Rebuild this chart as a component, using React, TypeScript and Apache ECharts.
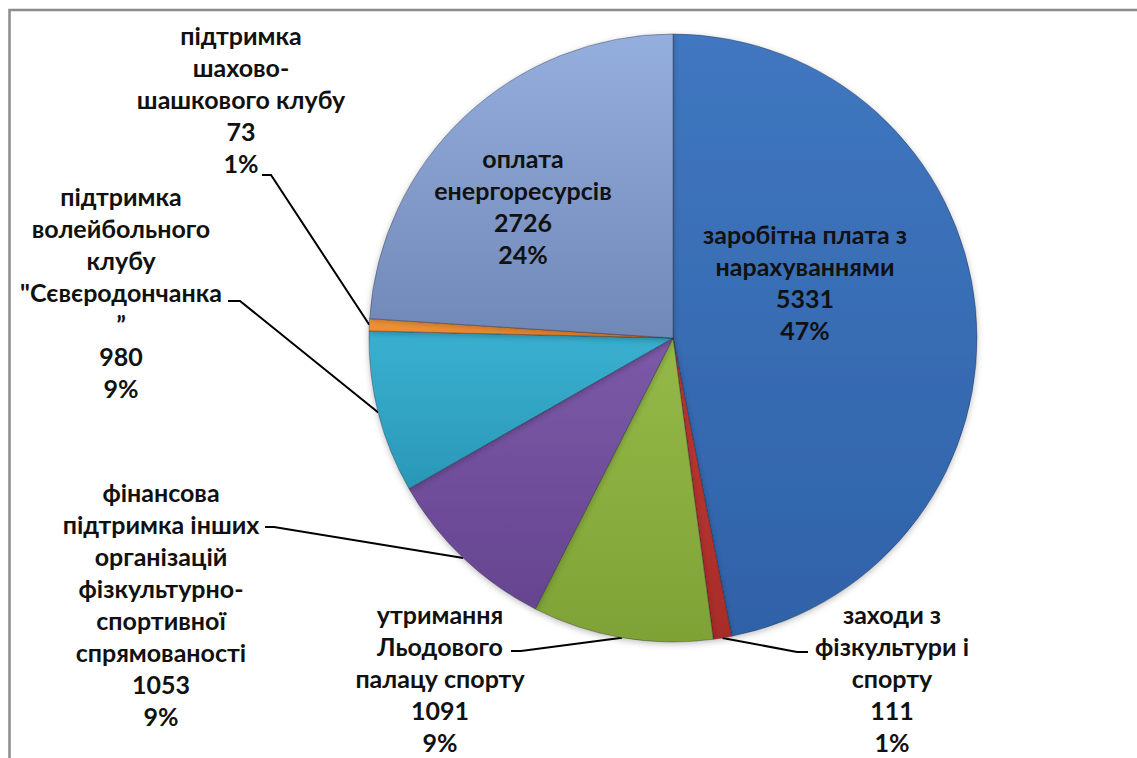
import React, { useEffect, useRef } from "react";
import * as echarts from "echarts";

const categories = [
  "заробітна плата з нарахуваннями",
  "заходи з фізкультури і спорту",
  "утримання Льодового палацу спорту",
  "фінансова підтримка інших організацій фізкультурно-спортивної спрямованості",
  "підтримка волейбольного клубу \"Сєвєродончанка\"",
  "підтримка шахово-шашкового клубу",
  "оплата енергоресурсів",
];
const values = [5331, 111, 1091, 1053, 980, 73, 2726];
const percents = [47, 1, 9, 9, 9, 1, 24];
const wrappedNames = [
  ["заробітна плата з", "нарахуваннями"],
  ["заходи з", "фізкультури і", "спорту"],
  ["утримання", "Льодового", "палацу спорту"],
  ["фінансова", "підтримка інших", "організацій", "фізкультурно-", "спортивної", "спрямованості"],
  ["підтримка", "волейбольного", "клубу", "\"Сєвєродончанка", "”"],
  ["підтримка", "шахово-", "шашкового клубу"],
  ["оплата", "енергоресурсів"],
];
const colors = [
  ["#4077C0", "#2F62A8"],
  ["#C03A35", "#A82C28"],
  ["#95BA48", "#7FA236"],
  ["#7C5AA8", "#664490"],
  ["#3AB0D0", "#2A98B8"],
  ["#F79B3E", "#E8842A"],
  ["#94AEDD", "#7088B8"],
];

// label layout (center of text block) and leader line bends
const labelPos: number[][] = [
  [805, 282],
  [892, 678],
  [440, 678],
  [161, 604],
  [121, 292],
  [241, 99],
  [523, 206],
];
const lineBends: (number[][] | null)[] = [
  null,
  [[797, 652], [808, 652]],
  [[521, 651], [511, 651]],
  [[274, 527], [265, 527]],
  [[240, 301], [228, 301]],
  [[271, 175], [262, 175]],
  null,
];

export default function App() {
  const ref = useRef<HTMLDivElement>(null);
  useEffect(() => {
    if (!ref.current) return;
    const chart = echarts.init(ref.current, null, { renderer: "svg" });
    const data = categories.map((name, i) => {
      const inside = lineBends[i] === null;
      return {
        name,
        value: values[i],
        itemStyle: {
          color: new echarts.graphic.LinearGradient(0, 0, 0, 1, [
            { offset: 0, color: colors[i][0] },
            { offset: 1, color: colors[i][1] },
          ]),
        },
        label: { position: inside ? "inside" : "outside" },
        labelLine: { show: !inside },
      };
    });
    chart.setOption({
      animation: false,
      backgroundColor: "#ffffff",
      graphic: [
        {
          type: "rect",
          silent: true,
          shape: { x: 9.5, y: 10, width: 1160, height: 780 },
          style: { fill: "none", stroke: "#8c8c8c", lineWidth: 2.5 },
        },
      ],
      series: [
        {
          type: "pie",
          center: [673, 338],
          radius: 304,
          startAngle: 90,
          clockwise: true,
          avoidLabelOverlap: false,
          itemStyle: {
            borderColor: "rgba(30,30,50,0.35)",
            borderWidth: 1,
            shadowBlur: 6,
            shadowColor: "rgba(0,0,0,0.25)",
            shadowOffsetY: 2,
          },
          label: {
            show: true,
            fontFamily: "Lato",
            fontWeight: "bold",
            fontSize: 25,
            lineHeight: 32,
            color: "#111111",
            align: "center",
            formatter: (p: any) =>
              [...wrappedNames[p.dataIndex], String(values[p.dataIndex]), percents[p.dataIndex] + "%"].join("\n"),
          },
          labelLine: {
            show: true,
            lineStyle: { color: "#000000", width: 2 },
          },
          labelLayout: (params: any) => {
            const i = params.dataIndex;
            const res: any = {
              x: labelPos[i][0],
              y: labelPos[i][1],
              align: "center",
              verticalAlign: "middle",
            };
            const b = lineBends[i];
            if (b && params.labelLinePoints) {
              res.labelLinePoints = [params.labelLinePoints[0], b[0], b[1]];
            }
            return res;
          },
          data,
        },
      ],
    });
    return () => chart.dispose();
  }, []);
  return (
    <div
      ref={ref}
      style={{ position: "fixed", left: 0, top: 0, width: 1137, height: 758 }}
    />
  );
}
